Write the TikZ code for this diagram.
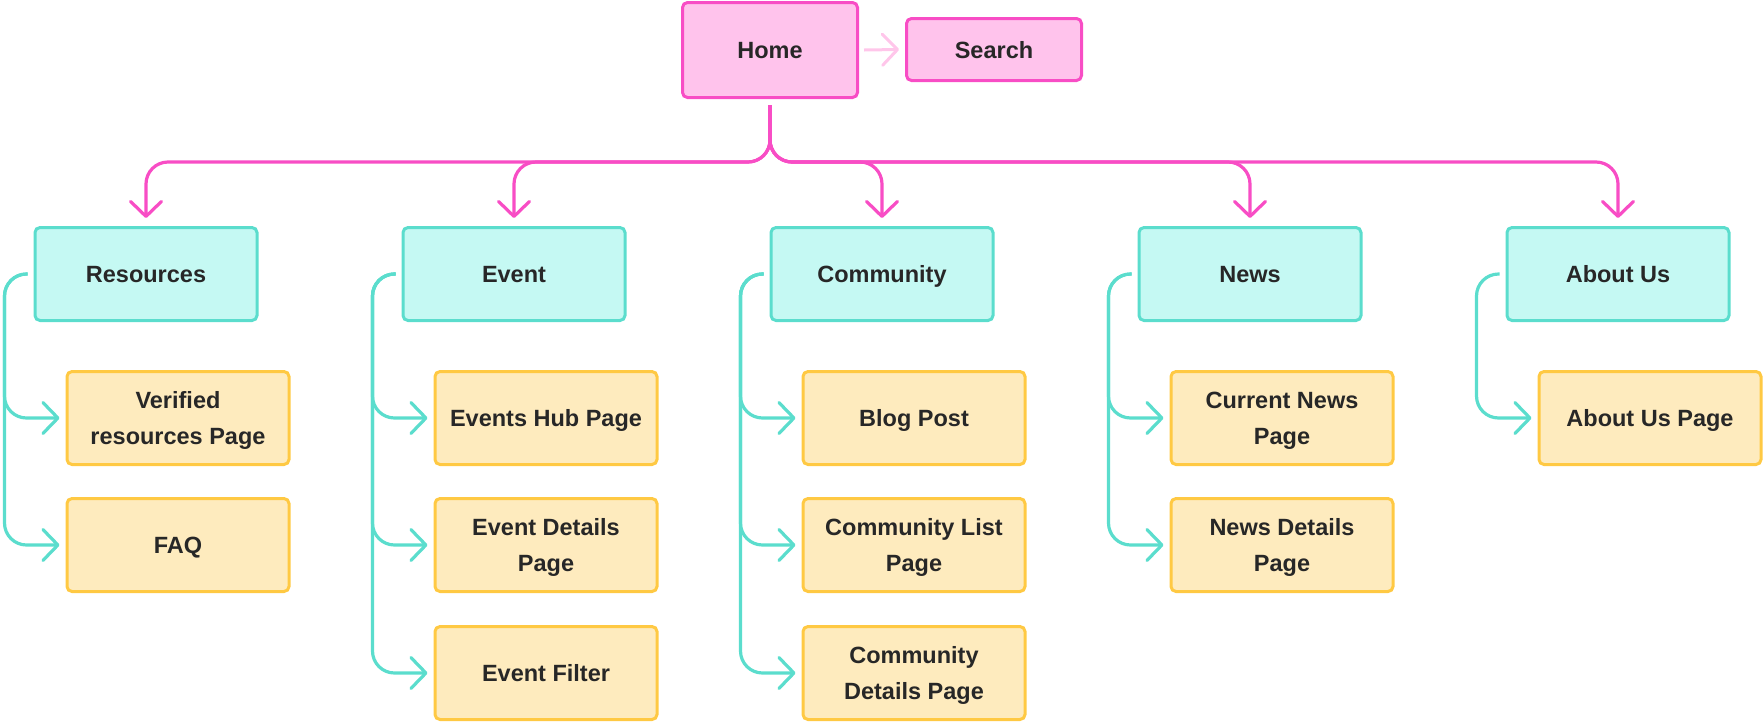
\documentclass[tikz,border=0pt]{standalone}
\usepackage{fontspec}
\setmainfont{Liberation Sans}
\usetikzlibrary{arrows.meta}
\definecolor{pinkfill}{HTML}{FFC3EC}
\definecolor{pinkline}{HTML}{F84DC5}
\definecolor{pinklight}{HTML}{FFC6EA}
\definecolor{cyanfill}{HTML}{C5F9F3}
\definecolor{cyanline}{HTML}{5BDDCD}
\definecolor{yelfill}{HTML}{FEEBBE}
\definecolor{yelline}{HTML}{FFC943}
\definecolor{txt}{HTML}{272727}

\begin{document}
\begin{tikzpicture}[x=1pt,y=-1pt,
  box/.style={draw,rounded corners=5pt,line width=3pt,align=center,inner sep=0pt,text depth=0pt,
    text=txt,font=\fontsize{23.5}{36}\selectfont\bfseries},
  topbox/.style={box,draw=pinkline,fill=pinkfill,minimum width=175pt},
  secbox/.style={box,draw=cyanline,fill=cyanfill,minimum width=222pt,minimum height=93pt},
  pgbox/.style={box,draw=yelline,fill=yelfill,minimum width=222pt,minimum height=93pt},
  tip/.style={-{Straight Barb[length=15pt,width=31pt,round]}},
  tree/.style={tip,draw=pinkline,line width=3.2pt,rounded corners=22pt},
  side/.style={tip,draw=cyanline,line width=3.2pt,rounded corners=22pt}]
  \useasboundingbox (0,0) rectangle (1764,724);
  \path (770,50) node[topbox,minimum height=95pt] (home) {Home}
  (994,49.5) node[topbox,minimum height=62pt] (search) {Search};
  \path (146,274) node[secbox] (res) {Resources} (514,274) node[secbox] (evt) {Event}
  (882,274) node[secbox] (com) {Community} (1250,274) node[secbox] (news) {News}
  (1618,274) node[secbox] (about) {About Us};
  \path (178,418) node[pgbox] (res1) {Verified\\resources Page} (178,545) node[pgbox] (res2) {FAQ}
  (546,418) node[pgbox] (evt1) {Events Hub Page} (546,545) node[pgbox] (evt2) {Event Details\\Page}
  (546,673) node[pgbox] (evt3) {Event Filter}
  (914,418) node[pgbox] (com1) {Blog Post} (914,545) node[pgbox] (com2) {Community List\\Page}
  (914,673) node[pgbox] (com3) {Community\\Details Page}
  (1282,418) node[pgbox] (news1) {Current News\\Page} (1282,545) node[pgbox] (news2) {News Details\\Page}
  (1650,418) node[pgbox] (about1) {About Us Page};
  \coordinate (bar) at (0,162);
  \draw[tip,draw=pinklight,line width=3pt] ([xshift=5pt]home.east) -- ([xshift=-6pt]search.west);
  \foreach \n in {res,evt,com,news,about}
    \draw[tree] ([yshift=-6pt]home.south) -- (home.south |- bar) -| ([yshift=8pt]\n.north);
  \foreach \p/\c in {res/res1,res/res2,evt/evt1,evt/evt2,evt/evt3,com/com1,com/com2,com/com3,
    news/news1,news/news2,about/about1}
    \draw[side] ([xshift=-6pt]\p.west) -- ++(-23,0) |- ([xshift=-6pt]\c.west);
\end{tikzpicture}
\end{document}
